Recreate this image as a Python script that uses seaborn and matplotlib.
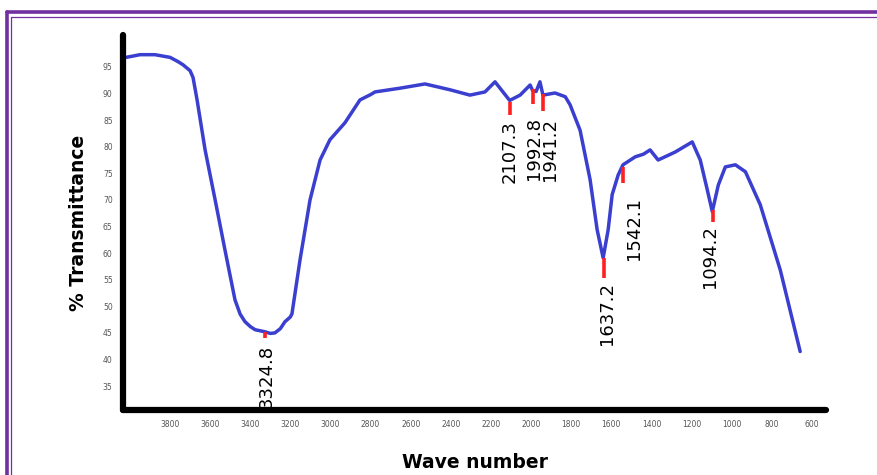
import matplotlib
matplotlib.use("Agg")
import matplotlib.pyplot as plt
import seaborn as sns
import pandas as pd
from matplotlib.lines import Line2D

# ---- data ----
wavenumber = [4034, 3990, 3950, 3875, 3800, 3760, 3735, 3700, 3685, 3665, 3625, 3575,
              3526, 3476, 3450, 3426, 3400, 3376, 3326, 3300, 3277, 3250, 3227, 3200,
              3192, 3152, 3102, 3052, 3003, 2928, 2853, 2800, 2778, 2654, 2529, 2404,
              2305, 2230, 2180, 2107, 2055, 2005, 1993, 1975, 1956, 1941, 1881, 1830,
              1806, 1756, 1706, 1671, 1641, 1616, 1596, 1566, 1542, 1481, 1440, 1407,
              1367, 1282, 1197, 1157, 1122, 1097, 1067, 1032, 982, 932, 858, 758, 659]
transmittance = [96.7, 97.0, 97.3, 97.3, 96.8, 96.0, 95.4, 94.3, 93.0, 88.8, 79.4, 70.0,
                 60.6, 51.2, 48.5, 47.1, 46.2, 45.6, 45.2, 44.9, 45.0, 45.8, 47.1, 48.0,
                 48.6, 58.7, 70.0, 77.5, 81.3, 84.5, 88.8, 89.8, 90.3, 91.0, 91.8, 90.7,
                 89.7, 90.3, 92.2, 88.7, 89.7, 91.6, 90.6, 90.4, 92.2, 89.7, 90.1, 89.4,
                 87.9, 83.1, 73.8, 64.4, 59.1, 64.4, 71.0, 74.7, 76.6, 78.1, 78.6, 79.4,
                 77.5, 79.0, 80.9, 77.5, 71.9, 67.8, 72.8, 76.2, 76.6, 75.3, 69.1, 56.8, 41.5]

peak_wn = [3324.8, 2107.3, 1992.8, 1941.2, 1637.2, 1542.1, 1094.2]
peak_labels = ["3324.8", "2107.3", "1992.8", "1941.2", "1637.2", "1542.1", "1094.2"]
marker_top = [45.2, 88.4, 90.9, 89.9, 59.1, 76.2, 68.1]
marker_bottom = [44.1, 86.0, 88.0, 86.7, 55.3, 73.2, 65.9]
label_top = [42.7, 85.0, 85.6, 85.4, 54.6, 70.6, 65.3]
label_dx = [1, 0, 1, 7, 3, 11, -3]   # horizontal shift of each label, px

x_ticks = [3800, 3600, 3400, 3200, 3000, 2800, 2600, 2400, 2200, 2000,
           1800, 1600, 1400, 1200, 1000, 800, 600]
y_ticks = [35, 40, 45, 50, 55, 60, 65, 70, 75, 80, 85, 90, 95]

df = pd.DataFrame({"Wave number": wavenumber, "% Transmittance": transmittance})

sns.set_style("white")
plt.rcParams["font.family"] = ["DejaVu Sans"]

fig = plt.figure(figsize=(8.77, 4.75), dpi=100)
ax = fig.add_axes([0.1403, 0.1368, 0.8016, 0.7895])

sns.lineplot(data=df, x="Wave number", y="% Transmittance", sort=False,
             color="#3a3fd0", linewidth=2.5, ax=ax)

ax.set_xlim(4034, 530)
ax.set_ylim(30.5, 101)

# peak markers and labels
for wn, lab, mt, mb, lt, dx in zip(peak_wn, peak_labels, marker_top, marker_bottom,
                                   label_top, label_dx):
    ax.vlines(wn, mb, mt, color="#ff2020", linewidth=2.6, zorder=3)
    ax.annotate(lab, (wn, lt), xytext=(dx * 0.72, 0), textcoords="offset points",
                rotation=90, ha="center", va="top", fontsize=13, color="black")

ax.set_xticks(x_ticks)
ax.set_xticklabels([str(v) for v in x_ticks])
ax.set_yticks(y_ticks)
ax.set_yticklabels([str(v) for v in y_ticks])
ax.tick_params(axis="both", labelsize=5.5, labelcolor="#555555", color="#e05050",
               length=1.5, width=0.8, direction="out", pad=6)

for s in ["top", "right"]:
    ax.spines[s].set_visible(False)
for s in ["left", "bottom"]:
    ax.spines[s].set_linewidth(4.5)
    ax.spines[s].set_color("black")
    ax.spines[s].set_capstyle("round")

ax.set_xlabel("Wave number", fontsize=13.5, fontweight="bold", labelpad=17, color="black")
ax.set_ylabel("% Transmittance", fontsize=13.5, fontweight="bold", labelpad=10.5,
              color="black")

# purple double frame (top & left edges visible in reference)
W, H = 877, 475
def fx(px): return px / W
def fy(py): return 1 - py / H
fig.add_artist(Line2D([fx(7), fx(877)], [fy(12), fy(12)], color="#7030a0", linewidth=2.6))
fig.add_artist(Line2D([fx(7), fx(7)], [fy(12), fy(475)], color="#7030a0", linewidth=2.6))
fig.add_artist(Line2D([fx(11), fx(877)], [fy(16.5), fy(16.5)], color="#7030a0", linewidth=0.9))
fig.add_artist(Line2D([fx(11), fx(11)], [fy(16.5), fy(475)], color="#7030a0", linewidth=0.9))

fig.savefig("out.png", dpi=100)
